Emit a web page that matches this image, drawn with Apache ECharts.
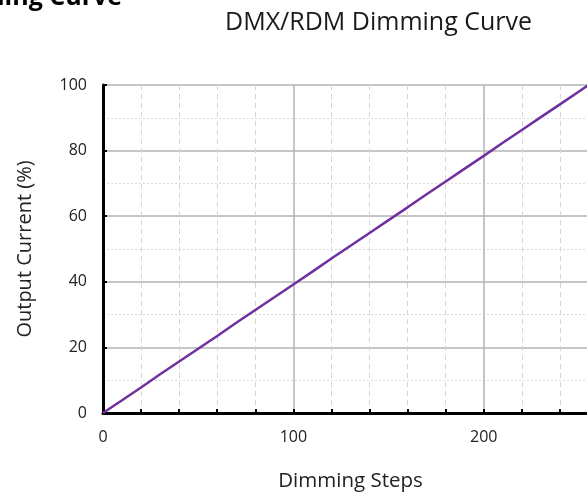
<!DOCTYPE html>
<html>
<head>
<meta charset="utf-8">
<script src="https://cdn.jsdelivr.net/npm/echarts@6/dist/echarts.min.js"></script>
<style>html,body{margin:0;padding:0;background:#fff;}#c{width:587px;height:495px;}</style>
</head>
<body>
<div id="c"></div>
<script>
var steps = [0,10,20,30,40,50,60,70,80,90,100,110,120,130,140,150,160,170,180,190,200,210,220,230,240,250,255];
var current = [0,3.9,7.8,11.8,15.7,19.6,23.5,27.5,31.4,35.3,39.2,43.1,47.1,51.0,54.9,58.8,62.7,66.7,70.6,74.5,78.4,82.4,86.3,90.2,94.1,98.0,100];
var titleText = 'DMX/RDM Dimming Curve';
var clippedHeading = 'Dimming Curve';
var xName = 'Dimming Steps';
var yName = 'Output Current (%)';

var chart = echarts.init(document.getElementById('c'));
var font = '"Open Sans", "Noto Sans", sans-serif';
chart.setOption({
  animation: false,
  title: {
    text: titleText,
    left: 220, top: 5,
    textStyle: {fontFamily: font, fontSize: 25, fontWeight: 'normal', color: '#1a1a1a'}
  },
  graphic: [{
    type: 'text', x: 122, y: -15,
    style: {text: clippedHeading, font: 'bold 25px ' + font, fill: '#000', align: 'right', verticalAlign: 'top'}
  }],
  grid: {left: 103, top: 85, right: -11, bottom: 82, outerBoundsMode: 'none', containLabel: false},
  xAxis: {
    type: 'value', min: 0, max: 260, interval: 100,
    name: xName, nameLocation: 'middle', nameGap: 58,
    nameTextStyle: {fontFamily: font, fontSize: 20.5, color: '#222'},
    axisLine: {show: true, onZero: false, lineStyle: {color: '#000', width: 3}},
    axisTick: {show: true, inside: true, length: 4, lineStyle: {color: '#000', width: 2}},
    minorTick: {show: true, splitNumber: 5, length: 4, lineStyle: {color: '#000', width: 2}},
    axisLabel: {fontFamily: font, fontSize: 16, color: '#222', margin: 16, showMaxLabel: false},
    splitLine: {show: true, lineStyle: {color: '#b3b3b3', width: 1.5}},
    minorSplitLine: {show: true, lineStyle: {color: '#d6d6d6', type: [5, 4], width: 1}}
  },
  yAxis: {
    type: 'value', min: 0, max: 100, interval: 20,
    name: yName, nameLocation: 'middle', nameGap: 68,
    nameTextStyle: {fontFamily: font, fontSize: 20, color: '#222'},
    axisLine: {show: true, lineStyle: {color: '#000', width: 3}},
    axisTick: {show: true, inside: true, length: 4, lineStyle: {color: '#000', width: 2}},
    axisLabel: {fontFamily: font, fontSize: 16, color: '#222', margin: 16},
    splitLine: {show: true, lineStyle: {color: '#b3b3b3', width: 1.5}},
    minorSplitLine: {show: true, lineStyle: {color: '#dcdcdc', type: [2, 2], width: 1}},
    minorTick: {show: false, splitNumber: 2}
  },
  series: [{
    type: 'line',
    data: steps.map(function (s, i) { return [s, current[i]]; }),
    showSymbol: false,
    lineStyle: {color: '#7030A0', width: 2.5},
    itemStyle: {color: '#7030A0'}
  }]
});
</script>
</body>
</html>
